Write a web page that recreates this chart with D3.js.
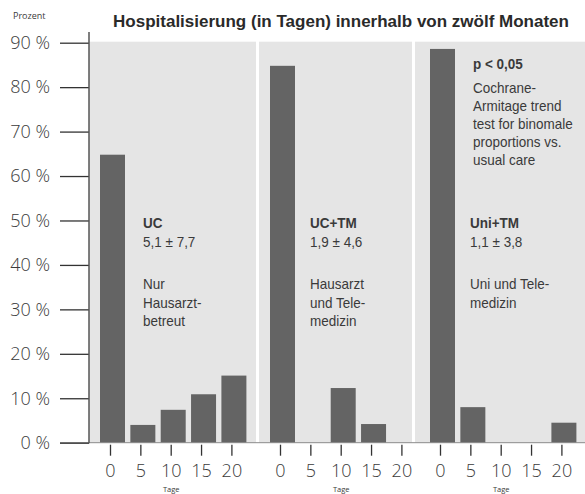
<!DOCTYPE html>
<html><head><meta charset="utf-8">
<script src="https://cdn.jsdelivr.net/npm/d3@7"></script>
<style>
html,body{margin:0;padding:0;background:#fff;}
svg{display:block;}
</style></head>
<body>
<svg id="chart" width="585" height="494"></svg>
<script>
// ---- data ----
const days = [0, 5, 10, 15, 20];
const groups = ["UC", "UC+TM", "Uni+TM"];
const ucValues = [64.8, 4.0, 7.4, 10.9, 15.1];
const ucTmValues = [84.8, 0, 12.3, 4.2, 0];
const uniTmValues = [88.6, 8.0, 0, 0, 4.5];
const yTicks = [0, 10, 20, 30, 40, 50, 60, 70, 80, 90];
const groupStats = ["5,1 \u00B1 7,7", "1,9 \u00B1 4,6", "1,1 \u00B1 3,8"];
const groupNotes = [["Nur", "Hausarzt-", "betreut"], ["Hausarzt", "und Tele-", "medizin"], ["Uni und Tele-", "medizin"]];
const pNote = ["p < 0,05", "Cochrane-", "Armitage trend", "test for binomale", "proportions vs.", "usual care"];
const titleText = "Hospitalisierung (in Tagen) innerhalb von zwölf Monaten";
const yUnitText = "Prozent";
const xUnitText = "Tage";

const seriesValues = [ucValues, ucTmValues, uniTmValues];

// ---- layout ----
const svg = d3.select("#chart");
const axisX = 89, baseY = 442.7, topY = 42.7;
const panelEdges = [[89, 256], [259, 412], [415, 585]];
const barStarts = [100, 270, 430];
const step = 30.35, bw = 25;
const pad = (step - bw) / step;
const bandLen = step * (days.length - pad);

const y = d3.scaleLinear().domain([0, 90]).range([baseY, topY]);
const barColor = "#646464";
const bgColor = "#e5e5e5";
const textColor = "#3a3a3a";
const noteFont = "'Liberation Sans',Arial,sans-serif";
const tickFont = "'Open Sans','Liberation Sans',sans-serif";
const squeeze = 0.9;

// backgrounds
svg.selectAll("rect.bg").data(panelEdges).join("rect")
  .attr("class", "bg")
  .attr("x", d => d[0]).attr("width", d => d[1] - d[0])
  .attr("y", y(90) - 1).attr("height", baseY - y(90) + 1)
  .attr("fill", bgColor);

// bars per panel
groups.forEach((g, gi) => {
  const x = d3.scaleBand().domain(days).range([barStarts[gi], barStarts[gi] + bandLen])
    .paddingInner(pad).paddingOuter(0);
  const gp = svg.append("g");
  gp.selectAll("rect").data(days.map((d, i) => ({ day: d, v: seriesValues[gi][i] })))
    .join("rect")
    .attr("x", d => x(d.day)).attr("width", x.bandwidth())
    .attr("y", d => y(d.v)).attr("height", d => baseY - y(d.v))
    .attr("fill", barColor);

  // x axis
  const ax = svg.append("g").attr("transform", `translate(-2,${baseY})`)
    .call(d3.axisBottom(x).tickSize(13).tickPadding(9).tickSizeOuter(0));
  ax.select(".domain").remove();
  ax.selectAll(".tick line").attr("stroke", "#333").attr("stroke-width", 1.3).attr("y1", 2);
  ax.selectAll(".tick text").attr("font-family", tickFont).attr("font-weight", 300)
    .attr("font-size", 18).attr("fill", textColor);

  // "Tage"
  svg.append("text").attr("x", (x(days[0]) + x(days[days.length - 1]) + x.bandwidth()) / 2 - 2)
    .attr("y", 491.5).attr("text-anchor", "middle")
    .attr("font-family", tickFont).attr("font-size", 7.5).attr("fill", textColor)
    .text(xUnitText);
});

// baseline
svg.append("line").attr("x1", 60).attr("x2", 585).attr("y1", baseY).attr("y2", baseY)
  .attr("stroke", "#8a8a8a").attr("stroke-width", 1);

// y axis
const yAx = svg.append("g").attr("transform", `translate(${axisX},0)`)
  .call(d3.axisLeft(y).tickValues(yTicks).tickSize(29).tickPadding(10).tickFormat(d => d + " %"));
yAx.select(".domain").remove();
yAx.selectAll(".tick line").attr("stroke", "#333").attr("stroke-width", 1.3);
yAx.selectAll(".tick text").attr("font-family", tickFont).attr("font-weight", 300)
  .attr("font-size", 18).attr("fill", textColor);
svg.append("line").attr("x1", axisX).attr("x2", axisX).attr("y1", 32).attr("y2", baseY + 0.5)
  .attr("stroke", "#555").attr("stroke-width", 1.5);

// "Prozent"
svg.append("text").attr("x", 13).attr("y", 19)
  .attr("font-family", tickFont).attr("font-size", 9).attr("fill", textColor).text(yUnitText);

// title
svg.append("text").attr("x", 341).attr("y", 27).attr("text-anchor", "middle")
  .attr("font-family", "'Liberation Sans',Arial,sans-serif").attr("font-weight", "bold")
  .attr("font-size", 17).attr("fill", "#2a2a2a").text(titleText);

// helper: condensed text line
function noteLine(sel, x, yy, txt, bold) {
  sel.append("text").attr("transform", `translate(${x},${yy}) scale(${squeeze},1)`)
    .attr("font-weight", bold ? "bold" : "normal").text(txt);
}

// group annotations
const noteX = [143, 310, 470];
groups.forEach((g, gi) => {
  const t = svg.append("g").attr("font-family", noteFont).attr("font-size", 15).attr("fill", textColor);
  noteLine(t, noteX[gi], 228, g, true);
  noteLine(t, noteX[gi], 247, groupStats[gi], false);
  groupNotes[gi].forEach((line, li) => noteLine(t, noteX[gi], 289 + li * 18.5, line, false));
});

// p-value note
const pn = svg.append("g").attr("font-family", noteFont).attr("font-size", 15).attr("fill", textColor);
pNote.forEach((line, li) => noteLine(pn, 473, li === 0 ? 69 : 75 + li * 18, line, li === 0));
</script>
</body></html>
